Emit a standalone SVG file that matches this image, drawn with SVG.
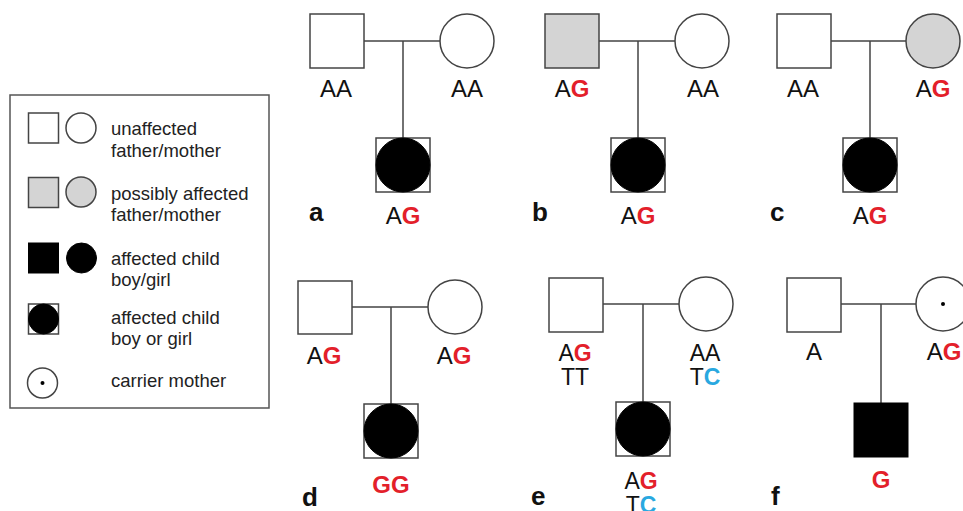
<svg xmlns="http://www.w3.org/2000/svg" width="963" height="511" viewBox="0 0 963 511">
<style>
  .sym { stroke: #444; stroke-width: 1.5; fill: #fff; }
  .gray { fill: #d4d4d4; }
  .blk { fill: #000; stroke: #000; }
  .ln { stroke: #444; stroke-width: 1.5; fill: none; }
  .gt { font-family: "Liberation Sans", Arial, sans-serif; font-size: 24px; fill: #111; text-anchor: middle; }
  .gt2 { font-family: "Liberation Sans", Arial, sans-serif; font-size: 23px; fill: #111; text-anchor: middle; }
  .r { fill: #e3202a; font-weight: bold; }
  .b { fill: #29a8e0; font-weight: bold; }
  .lab { font-family: "Liberation Sans", Arial, sans-serif; font-size: 26px; font-weight: bold; fill: #111; }
  .leg { font-family: "Liberation Sans", Arial, sans-serif; font-size: 18.5px; fill: #222; }
</style>

<g id="legend">
  <rect x="10" y="95" width="259" height="313" fill="#fff" stroke="#555" stroke-width="1.5"/>
  <rect class="sym" x="28.5" y="113" width="30" height="30"/>
  <circle class="sym" cx="81" cy="128" r="15"/>
  <text class="leg" x="111" y="135">unaffected</text>
  <text class="leg" x="111" y="157">father/mother</text>
  <rect class="sym gray" x="28.5" y="177.5" width="30" height="30"/>
  <circle class="sym gray" cx="81" cy="192" r="15"/>
  <text class="leg" x="111" y="200">possibly affected</text>
  <text class="leg" x="111" y="221">father/mother</text>
  <rect class="blk" x="28.5" y="243" width="30" height="30"/>
  <circle class="blk" cx="81.5" cy="258" r="15"/>
  <text class="leg" x="111" y="265">affected child</text>
  <text class="leg" x="111" y="286">boy/girl</text>
  <rect class="sym" x="28.5" y="304" width="30" height="30"/>
  <circle class="blk" cx="43.5" cy="319" r="15"/>
  <text class="leg" x="111" y="324">affected child</text>
  <text class="leg" x="111" y="345">boy or girl</text>
  <circle class="sym" cx="42.5" cy="383" r="15"/>
  <circle cx="42.5" cy="383" r="2" fill="#000"/>
  <text class="leg" x="111" y="387">carrier mother</text>
</g>

<g id="connectors">
  <path class="ln" d="M364 41H440M403 41V138"/>
  <path class="ln" d="M599 41H675M638 41V138"/>
  <path class="ln" d="M831 41H906M870 41V138"/>
  <path class="ln" d="M352 307H428M391 307V404"/>
  <path class="ln" d="M603 304H679M643 304V402"/>
  <path class="ln" d="M841 304H916M881 304V403"/>
</g>

<g id="panel-a">
  <g id="a-father"><rect class="sym" x="310" y="14" width="54" height="54"/><text class="gt" x="336" y="97">AA</text></g>
  <g id="a-mother"><circle class="sym" cx="467" cy="41" r="27"/><text class="gt" x="467" y="97">AA</text></g>
  <g id="a-child"><rect class="sym" x="376" y="138" width="54" height="54"/><circle class="blk" cx="403" cy="165" r="27"/><text class="gt" x="403" y="224">A<tspan class="r">G</tspan></text></g>
  <text class="lab" x="309" y="221">a</text>
</g>

<g id="panel-b">
  <g id="b-father"><rect class="sym gray" x="545" y="14" width="54" height="54"/><text class="gt" x="572" y="97">A<tspan class="r">G</tspan></text></g>
  <g id="b-mother"><circle class="sym" cx="702" cy="41" r="27"/><text class="gt" x="703" y="97">AA</text></g>
  <g id="b-child"><rect class="sym" x="611" y="138" width="54" height="54"/><circle class="blk" cx="638" cy="165" r="27"/><text class="gt" x="638" y="224">A<tspan class="r">G</tspan></text></g>
  <text class="lab" x="532" y="221">b</text>
</g>

<g id="panel-c">
  <g id="c-father"><rect class="sym" x="777" y="14" width="54" height="54"/><text class="gt" x="803" y="97">AA</text></g>
  <g id="c-mother"><circle class="sym gray" cx="933" cy="41" r="27"/><text class="gt" x="933" y="97">A<tspan class="r">G</tspan></text></g>
  <g id="c-child"><rect class="sym" x="843" y="138" width="54" height="54"/><circle class="blk" cx="870" cy="165" r="27"/><text class="gt" x="870" y="224">A<tspan class="r">G</tspan></text></g>
  <text class="lab" x="770" y="221">c</text>
</g>

<g id="panel-d">
  <g id="d-father"><rect class="sym" x="298" y="281" width="54" height="53"/><text class="gt" x="324" y="364">A<tspan class="r">G</tspan></text></g>
  <g id="d-mother"><circle class="sym" cx="455" cy="307" r="27"/><text class="gt" x="454" y="364">A<tspan class="r">G</tspan></text></g>
  <g id="d-child"><rect class="sym" x="364" y="404" width="54" height="54"/><circle class="blk" cx="391" cy="431" r="27"/><text class="gt r" x="391" y="493">GG</text></g>
  <text class="lab" x="302" y="506">d</text>
</g>

<g id="panel-e">
  <g id="e-father"><rect class="sym" x="549" y="278" width="54" height="54"/><text class="gt2" x="575" y="361">A<tspan class="r">G</tspan></text><text class="gt2" x="575" y="385">TT</text></g>
  <g id="e-mother"><circle class="sym" cx="706" cy="304" r="27"/><text class="gt2" x="705" y="361">AA</text><text class="gt2" x="705" y="385">T<tspan class="b">C</tspan></text></g>
  <g id="e-child"><rect class="sym" x="616" y="402" width="54" height="54"/><circle class="blk" cx="643" cy="429" r="27"/><text class="gt2" x="641" y="489">A<tspan class="r">G</tspan></text><text class="gt2" x="641" y="513">T<tspan class="b">C</tspan></text></g>
  <text class="lab" x="531" y="505">e</text>
</g>

<g id="panel-f">
  <g id="f-father"><rect class="sym" x="787" y="278" width="54" height="54"/><text class="gt" x="814" y="360">A</text></g>
  <g id="f-mother"><circle class="sym" cx="943" cy="304" r="27"/><circle cx="943" cy="304" r="2" fill="#000"/><text class="gt" x="944" y="360">A<tspan class="r">G</tspan></text></g>
  <g id="f-child"><rect class="blk" x="854" y="403" width="54" height="54"/><text class="gt r" x="881" y="488">G</text></g>
  <text class="lab" x="771" y="505">f</text>
</g>
</svg>
